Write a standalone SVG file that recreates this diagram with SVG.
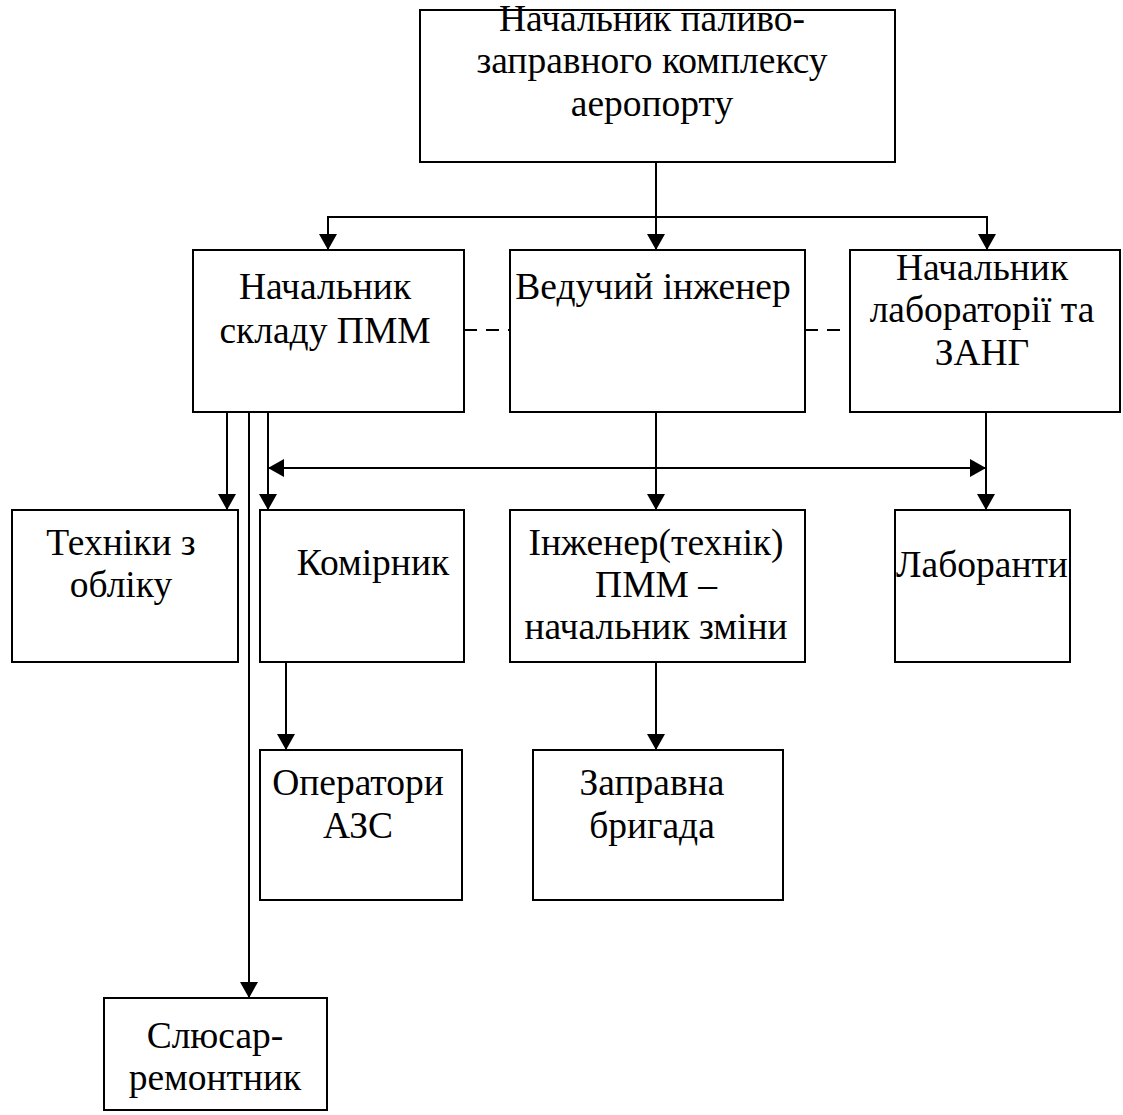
<svg xmlns="http://www.w3.org/2000/svg" width="1123" height="1115" viewBox="0 0 1123 1115">
<style>
.box{fill:#fff;stroke:#000;stroke-width:2}
.t{font-family:"Liberation Serif","Times New Roman",serif;font-size:37.5px;fill:#000;text-anchor:middle}
.c{fill:none;stroke:#000;stroke-width:2}
.d{fill:none;stroke:#000;stroke-width:2;stroke-dasharray:13,9}
</style>
<defs>
<marker id="ah" viewBox="0 0 16 18" refX="16" refY="9" markerWidth="16" markerHeight="18" markerUnits="userSpaceOnUse" orient="auto">
<path d="M0,0 L16,9 L0,18 Z" fill="#000"/>
</marker>
</defs>
<rect width="1123" height="1115" fill="#fff"/>
<g id="connectors">
<path class="c" d="M656,162 V250" marker-end="url(#ah)"/>
<path class="c" d="M328,250 V217 H987 V250" marker-end="url(#ah)"/>
<path class="c" d="M328,217 V250" marker-end="url(#ah)"/>
<path class="d" d="M464,330 H510"/>
<path class="d" d="M805,330 H850"/>
<path class="c" d="M227,412 V510" marker-end="url(#ah)"/>
<path class="c" d="M249,412 V998" marker-end="url(#ah)"/>
<path class="c" d="M268,412 V510" marker-end="url(#ah)"/>
<path class="c" d="M656,412 V510" marker-end="url(#ah)"/>
<path class="c" d="M986,412 V510" marker-end="url(#ah)"/>
<path class="c" d="M282,468 H986" marker-end="url(#ah)"/>
<path class="c" d="M972,468 H268" marker-end="url(#ah)"/>
<path class="c" d="M286,661 V750" marker-end="url(#ah)"/>
<path class="c" d="M656,661 V750" marker-end="url(#ah)"/>
</g>
<g id="n1"><rect class="box" x="420" y="10" width="475" height="152"/>
<text class="t" x="652" y="31">Начальник паливо-</text>
<text class="t" x="652" y="73">заправного комплексу</text>
<text class="t" x="652" y="116">аеропорту</text></g>
<g id="n2"><rect class="box" x="193" y="250" width="271" height="162"/>
<text class="t" x="325" y="299">Начальник</text>
<text class="t" x="325" y="343">складу ПММ</text></g>
<g id="n3"><rect class="box" x="510" y="250" width="295" height="162"/>
<text class="t" x="653" y="299">Ведучий інженер</text></g>
<g id="n4"><rect class="box" x="850" y="250" width="270" height="162"/>
<text class="t" x="982" y="280">Начальник</text>
<text class="t" x="982" y="322">лабораторії та</text>
<text class="t" x="982" y="365">ЗАНГ</text></g>
<g id="n5"><rect class="box" x="12" y="510" width="226" height="152"/>
<text class="t" x="121" y="555">Техніки з</text>
<text class="t" x="121" y="597">обліку</text></g>
<g id="n6"><rect class="box" x="260" y="510" width="204" height="152"/>
<text class="t" x="373" y="575">Комірник</text></g>
<g id="n7"><rect class="box" x="510" y="510" width="295" height="152"/>
<text class="t" x="656" y="555">Інженер(технік)</text>
<text class="t" x="656" y="597">ПММ –</text>
<text class="t" x="656" y="639">начальник зміни</text></g>
<g id="n8"><rect class="box" x="895" y="510" width="175" height="152"/>
<text class="t" x="982" y="577">Лаборанти</text></g>
<g id="n9"><rect class="box" x="260" y="750" width="202" height="150"/>
<text class="t" x="358" y="795">Оператори</text>
<text class="t" x="358" y="838">АЗС</text></g>
<g id="n10"><rect class="box" x="533" y="750" width="250" height="150"/>
<text class="t" x="652" y="795">Заправна</text>
<text class="t" x="652" y="838">бригада</text></g>
<g id="n11"><rect class="box" x="104" y="998" width="223" height="112"/>
<text class="t" x="215" y="1048">Слюсар-</text>
<text class="t" x="215" y="1090">ремонтник</text></g>
</svg>
